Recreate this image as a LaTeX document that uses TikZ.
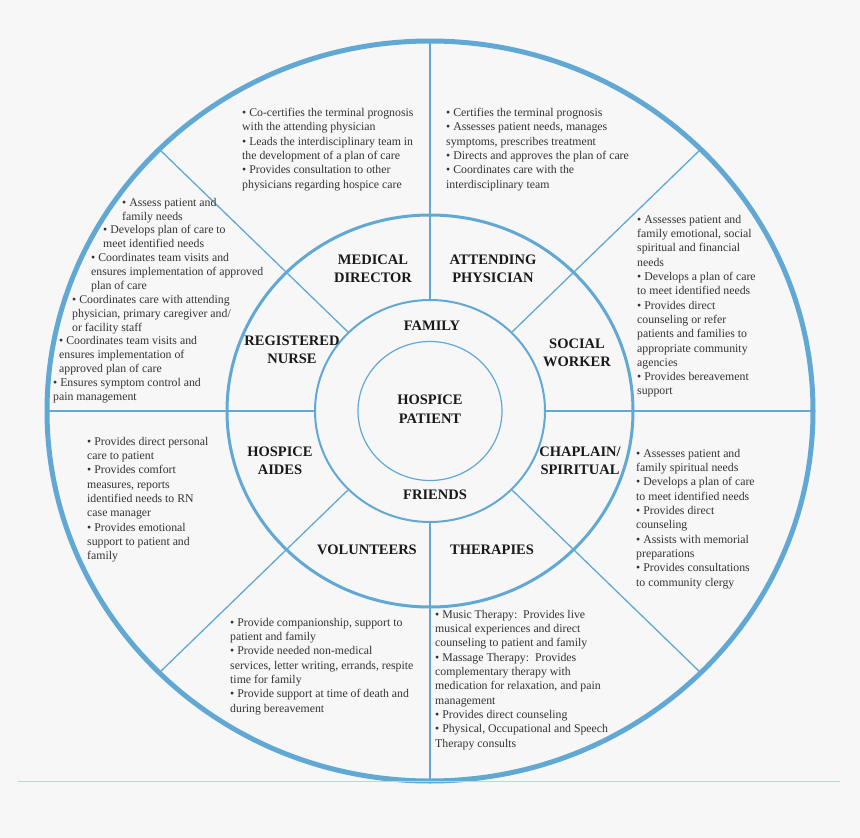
\documentclass[tikz,border=0pt]{standalone}
\usepackage{fontspec}
\setmainfont{Liberation Serif}
\begin{document}
\begin{tikzpicture}[x=1pt,y=-1pt,
  lbl/.style={font=\fontsize{14.5}{18.5}\selectfont\bfseries, align=center, text=black!90, inner sep=0},
  txt/.style={font=\fontsize{11.8}{14.3}\selectfont, align=left, anchor=north west, inner sep=0, text=black!80},
  ring/.style={draw=ringblue},
  spoke/.style={draw=ringblue, line width=1.3pt}]
\definecolor{ringblue}{HTML}{62A8D4}
\definecolor{bgc}{HTML}{F7F7F7}
\definecolor{lightgreenline}{HTML}{B8DCC8}
\fill[bgc] (0,0) rectangle (860,838);
\useasboundingbox (0,0) rectangle (860,838);
\coordinate (c) at (430,411);
% spokes
\draw[spoke] (430,300) -- (430,41);
\draw[spoke] (430,522) -- (430,780);
\draw[spoke] (315,411) -- (47,411);
\draw[spoke] (545,411) -- (813,411);
\draw[spoke] (349,333) -- (159,149);
\draw[spoke] (511,333) -- (701,149);
\draw[spoke] (349,489) -- (159,673);
\draw[spoke] (511,489) -- (701,673);
% rings
\draw[ring, line width=5pt] (c) ellipse [x radius=383, y radius=370];
\draw[ring, line width=3pt] (c) ellipse [x radius=203, y radius=196];
\draw[ring, line width=2pt] (c) ellipse [x radius=115, y radius=111];
\draw[ring, line width=1.2pt] (c) ellipse [x radius=72, y radius=69.5];
\draw[draw=lightgreenline, line width=1pt] (18,781) -- (840,781);
% labels
\node[lbl] (md) at (373,269) {MEDICAL\\DIRECTOR};
\node[lbl] (ap) at (493,269) {ATTENDING\\PHYSICIAN};
\node[lbl] (sw) at (577,353) {SOCIAL\\WORKER};
\node[lbl] (ch) at (580,461) {CHAPLAIN/\\SPIRITUAL};
\node[lbl] (th) at (492,550) {THERAPIES};
\node[lbl] (vo) at (367,550) {VOLUNTEERS};
\node[lbl] (ha) at (280,461) {HOSPICE\\AIDES};
\node[lbl] (rn) at (292,350) {REGISTERED\\NURSE};
\node[lbl] (fa) at (432,326) {FAMILY};
\node[lbl] (fr) at (435,495) {FRIENDS};
\node[lbl] (hp) at (430,409) {HOSPICE\\PATIENT};
% text blocks
\node[txt] (tmd) at (242,108) {\textbullet{} Co-certifies the terminal prognosis\\with the attending physician\\\textbullet{} Leads the interdisciplinary team in\\the development of a plan of care\\\textbullet{} Provides consultation to other\\physicians regarding hospice care};
\node[txt] (tap) at (446,108) {\textbullet{} Certifies the terminal prognosis\\\textbullet{} Assesses patient needs, manages\\symptoms, prescribes treatment\\\textbullet{} Directs and approves the plan of care\\\textbullet{} Coordinates care with the\\interdisciplinary team};
\node[txt] (tsw) at (637,215) {\textbullet{} Assesses patient and\\family emotional, social\\spiritual and financial\\needs\\\textbullet{} Develops a plan of care\\to meet identified needs\\\textbullet{} Provides direct\\counseling or refer\\patients and families to\\appropriate community\\agencies\\\textbullet{} Provides bereavement\\support};
\node[txt] (tch) at (636,449) {\textbullet{} Assesses patient and\\family spiritual needs\\\textbullet{} Develops a plan of care\\to meet identified needs\\\textbullet{} Provides direct\\counseling\\\textbullet{} Assists with memorial\\preparations\\\textbullet{} Provides consultations\\to community clergy};
\node[txt] (tha) at (87,437) {\textbullet{} Provides direct personal\\care to patient\\\textbullet{} Provides comfort\\measures, reports\\identified needs to RN\\case manager\\\textbullet{} Provides emotional\\support to patient and\\family};
\node[txt] (tvo) at (230,618) {\textbullet{} Provide companionship, support to\\patient and family\\\textbullet{} Provide needed non-medical\\services, letter writing, errands, respite\\time for family\\\textbullet{} Provide support at time of death and\\during bereavement};
\node[txt] (tth) at (435,610) {\textbullet{} Music Therapy:\ \ Provides live\\musical experiences and direct\\counseling to patient and family\\\textbullet{} Massage Therapy:\ \ Provides\\complementary therapy with\\medication for relaxation, and pain\\management\\\textbullet{} Provides direct counseling\\\textbullet{} Physical, Occupational and Speech\\Therapy consults};
% RN block (ragged)
\node[txt] (rn1) at (122,198) {\textbullet{} Assess patient and\\family needs};
\node[txt] (rn2) at (103,225) {\textbullet{} Develops plan of care to\\meet identified needs};
\node[txt] (rn3) at (91,253) {\textbullet{} Coordinates team visits and\\ensures implementation of approved\\plan of care};
\node[txt] (rn4) at (72,295) {\textbullet{} Coordinates care with attending\\physician, primary caregiver and/\\or facility staff};
\node[txt] (rn5) at (59,336) {\textbullet{} Coordinates team visits and\\ensures implementation of\\approved plan of care};
\node[txt] (rn6) at (53,378) {\textbullet{} Ensures symptom control and\\pain management};
\end{tikzpicture}
\end{document}
